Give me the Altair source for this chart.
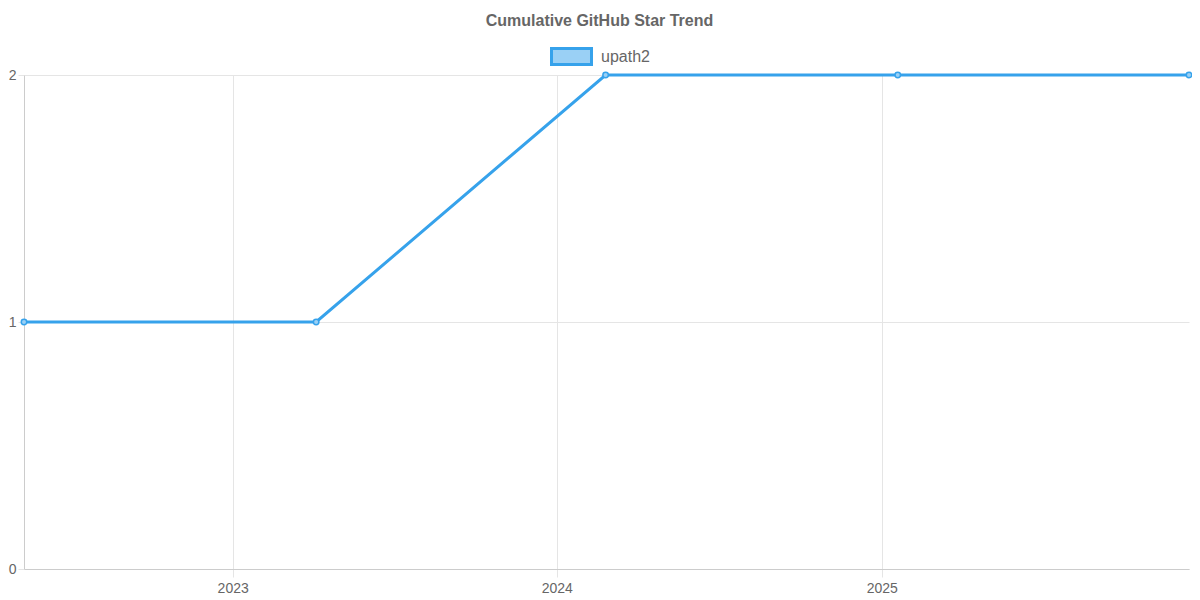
import altair as alt
import pandas as pd

dates = ["2022-05-11", "2023-04-05", "2024-02-25", "2025-01-19", "2025-12-13"]
stars = [1, 1, 2, 2, 2]
series = ["upath2"] * len(dates)
y_ticks = [0, 1, 2]
x_tick_years = [2023, 2024, 2025]

df = pd.DataFrame({"date": pd.to_datetime(dates), "stars": stars, "repo": series})

LINE = "#36A2EB"
FILL = "#9AD0F5"
FONT = "Liberation Sans"
GRID = "#e5e5e5"

xscale = alt.Scale(domain=[dates[0], dates[-1]], nice=False)
yscale = alt.Scale(domain=[0, 2], nice=False)

xaxis = alt.Axis(
    title=None, format="%Y", values=[alt.DateTime(year=y) for y in x_tick_years],
    grid=True, gridColor=GRID, tickColor=GRID, tickSize=8, domainColor="#cccccc",
    labelFont=FONT, labelFontSize=14, labelColor="#666666", labelPadding=4,
)
yaxis = alt.Axis(
    title=None, values=y_ticks, tickCount=3, labelOverlap=False,
    labelExpr="format(datum.value, ',.0f')",
    grid=True, gridColor=GRID, tickColor=GRID, tickSize=6, domainColor="#cccccc",
    labelFont=FONT, labelFontSize=14, labelColor="#666666", labelPadding=2,
)

color = alt.Color(
    "repo:N",
    scale=alt.Scale(range=[LINE]),
    legend=alt.Legend(
        title=None, orient="none", legendX=526, legendY=-40,
        symbolType="M-1,-0.4H1V0.4H-1Z", symbolSize=1600,
        symbolFillColor=FILL, symbolStrokeColor=LINE, symbolStrokeWidth=3,
        labelFont=FONT, labelFontSize=16, labelColor="#666666", labelOffset=8,
    ),
)

base = alt.Chart(df).encode(
    x=alt.X("date:T", scale=xscale, axis=xaxis),
    y=alt.Y("stars:Q", scale=yscale, axis=yaxis),
)

line = base.mark_line(strokeWidth=3, color=LINE).encode(color=color)
pts = base.mark_point(filled=True, size=30, fill=FILL, stroke=LINE, strokeWidth=1.5, opacity=1)

chart = (
    alt.layer(line, pts)
    .properties(
        width=1165, height=494,
        padding={"left": 16, "top": 67, "right": 3, "bottom": 27},
        autosize=alt.AutoSizeParams(type="none"),
        title=alt.TitleParams(
            "Cumulative GitHub Star Trend", font=FONT, fontSize=16, fontWeight="bold",
            color="#666666", frame="group", anchor="middle", offset=6, dx=-7,
        ),
    )
    .configure_view(stroke=None)
)

chart.save("out.html", embed_options={"renderer": "svg", "actions": False})
